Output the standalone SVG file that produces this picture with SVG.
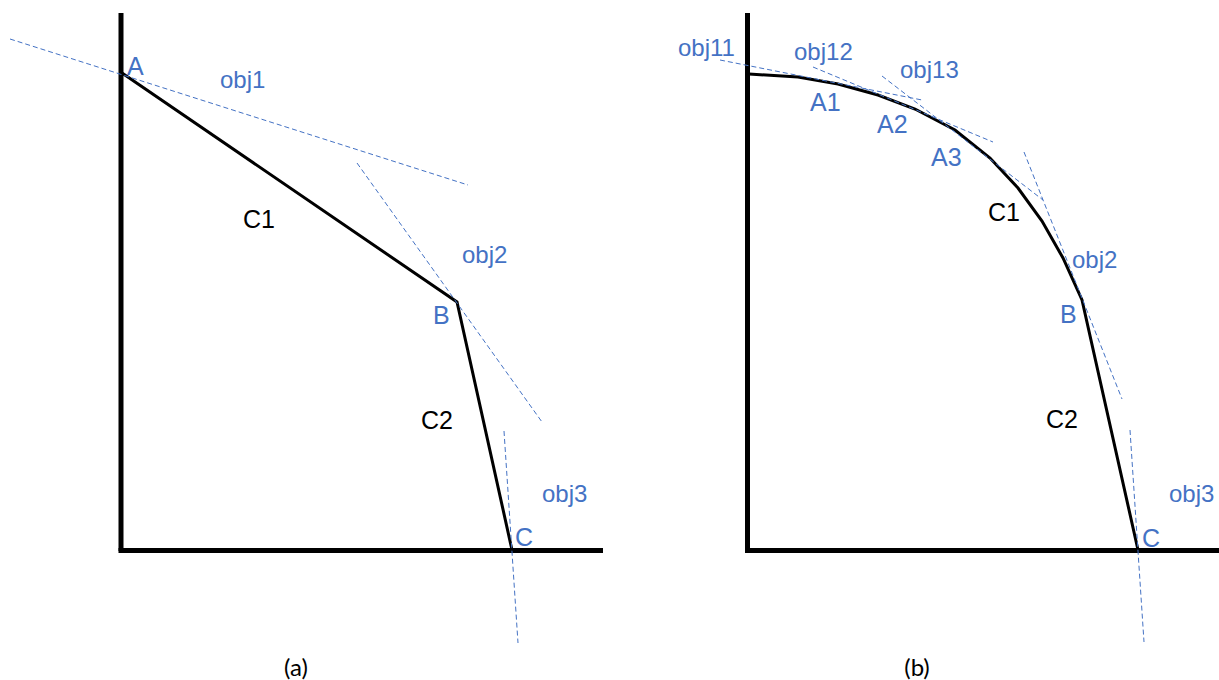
<svg xmlns="http://www.w3.org/2000/svg" width="1219" height="680" viewBox="0 0 1219 680">
<style>
.axis{stroke:#000;stroke-width:5;fill:none;stroke-linecap:butt}
.curve{stroke:#000;stroke-width:3;fill:none;stroke-linejoin:miter}
.tan{stroke:#4472C4;stroke-width:1;stroke-dasharray:5 3;fill:none}
.obj{font-family:"Liberation Sans",Arial,sans-serif;font-size:24px;fill:#4472C4}
.pt{font-family:"Liberation Sans",Arial,sans-serif;font-size:25px;fill:#4472C4}
.seg{font-family:"Liberation Sans",Arial,sans-serif;font-size:25px;fill:#000}
.cap{font-family:Lato,"Open Sans",sans-serif;font-size:24px;fill:#000}
</style>
<rect width="1219" height="680" fill="#fff"/>
<g id="panel-a">
  <g id="axes-a">
    <line class="axis" x1="121" y1="13" x2="121" y2="551"/>
    <line class="axis" x1="118.5" y1="550.5" x2="603" y2="550.5"/>
  </g>
  <g id="frontier-a">
    <polyline class="curve" points="122,73 457,302 512,550"/>
  </g>
  <g id="connectors-a">
    <line class="tan" x1="10" y1="39" x2="468" y2="185"/>
    <line class="tan" x1="357" y1="163" x2="542" y2="422"/>
    <line class="tan" x1="504" y1="431" x2="518" y2="643"/>
  </g>
  <g id="labels-a">
    <text class="pt" x="127" y="75">A</text>
    <text class="obj" x="220" y="88">obj1</text>
    <text class="seg" x="243" y="228">C1</text>
    <text class="obj" x="462" y="263">obj2</text>
    <text class="pt" x="433" y="324">B</text>
    <text class="seg" x="421" y="429">C2</text>
    <text class="obj" x="542" y="502">obj3</text>
    <text class="pt" x="515" y="546">C</text>
    <text class="cap" x="296" y="676" text-anchor="middle">(a)</text>
  </g>
</g>
<g id="panel-b">
  <g id="axes-b">
    <line class="axis" x1="747.5" y1="13" x2="747.5" y2="551"/>
    <line class="axis" x1="745" y1="550.5" x2="1219" y2="550.5"/>
  </g>
  <g id="frontier-b">
    <polyline class="curve" points="749,74 798,77 838,84 878,95 915,109 955,130 990,158 1018,188 1042,221 1063,258 1082,300 1138,550"/>
  </g>
  <g id="connectors-b">
    <line class="tan" x1="720" y1="60" x2="922" y2="100"/>
    <line class="tan" x1="813" y1="67" x2="993" y2="142"/>
    <line class="tan" x1="882" y1="76" x2="1043" y2="200"/>
    <line class="tan" x1="1024" y1="152" x2="1122" y2="399"/>
    <line class="tan" x1="1130" y1="430" x2="1144" y2="642"/>
  </g>
  <g id="labels-b">
    <text class="obj" x="678" y="56">obj11</text>
    <text class="obj" x="794" y="60">obj12</text>
    <text class="obj" x="900" y="78">obj13</text>
    <text class="pt" x="810" y="111">A1</text>
    <text class="pt" x="877" y="133">A2</text>
    <text class="pt" x="931" y="166">A3</text>
    <text class="seg" x="988" y="221">C1</text>
    <text class="obj" x="1072" y="268">obj2</text>
    <text class="pt" x="1060" y="323">B</text>
    <text class="seg" x="1046" y="428">C2</text>
    <text class="obj" x="1169" y="502">obj3</text>
    <text class="pt" x="1142" y="547">C</text>
    <text class="cap" x="917" y="676" text-anchor="middle">(b)</text>
  </g>
</g>
</svg>
